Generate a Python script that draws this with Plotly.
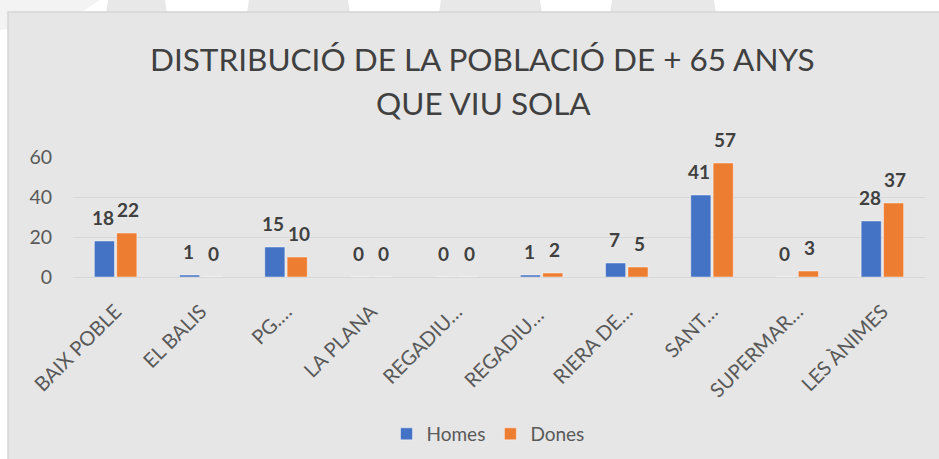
import plotly.graph_objects as go

categories = ["BAIX POBLE", "EL BALIS", "PG.…", "LA PLANA", "REGADIU…",
              "REGADIU… ", "RIERA DE…", "SANT…", "SUPERMAR…", "LES ÀNIMES"]
homes = [18, 1, 15, 0, 0, 1, 7, 41, 0, 28]
dones = [22, 0, 10, 0, 0, 2, 5, 57, 3, 37]
series_names = ["Homes", "Dones"]
y_ticks = [0, 20, 40, 60]

W, H = 939, 459
ML, MR, MT, MB = 73, 14, 157, 182
PW = W - ML - MR
PH = H - MT - MB
FONT = "Lato"
BLUE, ORANGE = "#4472C4", "#ED7D31"


def px(x):
    return (x - ML) / PW


def py(y):
    return (H - MB - y) / PH


fig = go.Figure()
fig.add_trace(go.Bar(x=categories, y=homes, name=series_names[0],
                     marker=dict(color=BLUE, line=dict(color="rgba(255,255,255,0.45)", width=1))))
fig.add_trace(go.Bar(x=categories, y=dones, name=series_names[1],
                     marker=dict(color=ORANGE, line=dict(color="rgba(255,255,255,0.45)", width=1))))

annotations = []
for vals, shift in ((homes, -12.6), (dones, 12.6)):
    for c, v in zip(categories, vals):
        annotations.append(dict(x=c, y=v, xref="x", yref="y", text=str(v), showarrow=False,
                                xshift=shift, yshift=24, yanchor="middle", xanchor="center",
                                font=dict(family=FONT, size=19, color="#404040", weight="bold")))

annotations.append(dict(x=px(482), y=py(59), xref="paper", yref="paper", showarrow=False,
                        text="DISTRIBUCIÓ DE LA POBLACIÓ DE + 65 ANYS", xanchor="center", yanchor="middle",
                        font=dict(family=FONT, size=31.5, color="#404040")))
annotations.append(dict(x=px(483), y=py(103), xref="paper", yref="paper", showarrow=False,
                        text="QUE VIU SOLA", xanchor="center", yanchor="middle",
                        font=dict(family=FONT, size=31.5, color="#404040")))

shapes = []
# watermark stripes on the page above the chart
stripes = [(108, 165), (249, 348), (441, 540), (612, 714)]
for a, b in stripes:
    shapes.append(dict(type="path", xref="paper", yref="paper", layer="below",
                       path=f"M {px(a)},{py(0)} L {px(b)},{py(0)} L {px(b+3)},{py(20)} L {px(a-3)},{py(20)} Z",
                       fillcolor="#E8E8E8", line=dict(width=0)))
shapes.append(dict(type="path", xref="paper", yref="paper", layer="below",
                   path=f"M {px(0)},{py(0)} L {px(100)},{py(0)} L {px(70)},{py(20)} L {px(0)},{py(30)} Z",
                   fillcolor="#F3F3F3", line=dict(width=0)))
# chart area
shapes.append(dict(type="rect", xref="paper", yref="paper", layer="below",
                   x0=px(8), x1=px(960), y0=py(12), y1=py(480),
                   fillcolor="#E6E6E6", line=dict(color="#D5D5D5", width=1.5)))

fig.update_layout(
    width=W, height=H,
    margin=dict(l=ML, r=MR, t=MT, b=MB, autoexpand=False),
    paper_bgcolor="white", plot_bgcolor="rgba(0,0,0,0)",
    barmode="group", bargap=0.475, bargroupgap=0.1,
    font=dict(family=FONT, color="#595959"),
    showlegend=True,
    legend=dict(orientation="h", x=px(488), xanchor="center", y=py(434), yanchor="middle",
                font=dict(family=FONT, size=19, color="#595959"), bgcolor="rgba(0,0,0,0)",
                itemwidth=30, traceorder="normal"),
    annotations=annotations, shapes=shapes,
)
fig.update_xaxes(tickangle=-45, tickfont=dict(family=FONT, size=20, color="#595959"),
                 showline=False, showgrid=False, ticks="", automargin=False, ticklabelstandoff=18)
fig.update_yaxes(range=[0, 60], tickvals=y_ticks, tickfont=dict(family=FONT, size=19.5, color="#595959"),
                 showgrid=True, gridcolor="#D7D7D7", gridwidth=1.3, zeroline=True, zerolinecolor="#D7D7D7",
                 zerolinewidth=1.3, showline=False, ticks="", ticklabelstandoff=20, automargin=False)

fig.write_html("out.html", config={"displayModeBar": False},
               post_script="document.body.style.margin='0';")
